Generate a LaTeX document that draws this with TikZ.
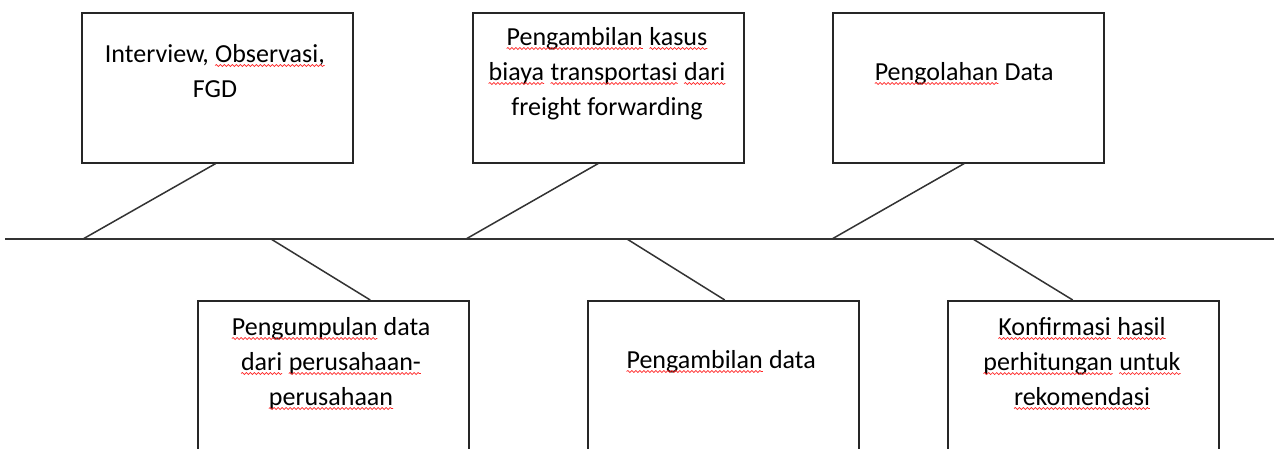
\documentclass[tikz,border=0pt]{standalone}
\usepackage{fontspec}
\setmainfont{Carlito}
\usetikzlibrary{decorations.pathmorphing}
\newcommand\spell[1]{\tikz[baseline=(w.base)]{\node[inner sep=0pt,outer sep=0pt,draw=none,align=center](w){#1};\draw[red!85!white,line width=0.7pt,decorate,decoration={snake,amplitude=1pt,segment length=4pt}]([yshift=-3.5pt]w.base west)--([yshift=-3.5pt]w.base east);}}
\tikzset{
  box/.style={draw=black!85,line width=1.5pt,minimum width=271pt,minimum height=150pt,inner sep=0pt,anchor=north west},
  lbl/.style={font=\fontsize{26}{35}\selectfont,align=center,anchor=base,inner sep=0pt},
  conn/.style={draw=black!80,line width=1.5pt}
}
\begin{document}
\begin{tikzpicture}[x=1pt,y=-1pt]
\useasboundingbox (0,0) rectangle (1274,448);
\clip (0,0) rectangle (1274,448);
\fill[white] (0,0) rectangle (1274,448);
% spine
\coordinate (sl) at (5,239);
\coordinate (sr) at (1280,239);
\draw[conn] (sl) -- (sr);
% boxes
\node[box] (b1) at (81,12) {};
\node[box] (b2) at (472,12) {};
\node[box] (b3) at (832,12) {};
\node[box,minimum height=200pt] (b4) at (197,300) {};
\node[box,minimum height=200pt] (b5) at (587,300) {};
\node[box,minimum height=200pt] (b6) at (947,300) {};
% labels (anchor = baseline of last line)
\node[lbl] (t1) at (215,97) {Interview, \spell{Observasi,}\\FGD};
\node[lbl] (t2) at (607,115) {\spell{Pengambilan} \spell{kasus}\\\spell{biaya} \spell{transportasi} \spell{dari}\\freight forwarding};
\node[lbl] (t3) at (964,80) {\spell{Pengolahan} Data};
\node[lbl] (t4) at (331,405) {\spell{Pengumpulan} data\\\spell{dari} \spell{perusahaan-}\\\spell{perusahaan}};
\node[lbl] (t5) at (721,368) {\spell{Pengambilan} data};
\node[lbl] (t6) at (1082,405) {\spell{Konfirmasi} \spell{hasil}\\\spell{perhitungan} \spell{untuk}\\\spell{rekomendasi}};
% spine points
\coordinate (p1) at (83,239);
\coordinate (p2) at (466,239);
\coordinate (p3) at (832,239);
\coordinate (q4) at (271,239);
\coordinate (q5) at (627,239);
\coordinate (q6) at (973,239);
% connectors
\draw[conn] ([xshift=-1.5pt]b1.south) -- (p1);
\draw[conn] ([xshift=-10pt]b2.south) -- (p2);
\draw[conn] ([xshift=-4pt]b3.south) -- (p3);
\draw[conn] (q4) -- ([xshift=37pt]b4.north);
\draw[conn] (q5) -- ([xshift=1.5pt]b5.north);
\draw[conn] (q6) -- ([xshift=-10.5pt]b6.north);
\end{tikzpicture}
\end{document}
